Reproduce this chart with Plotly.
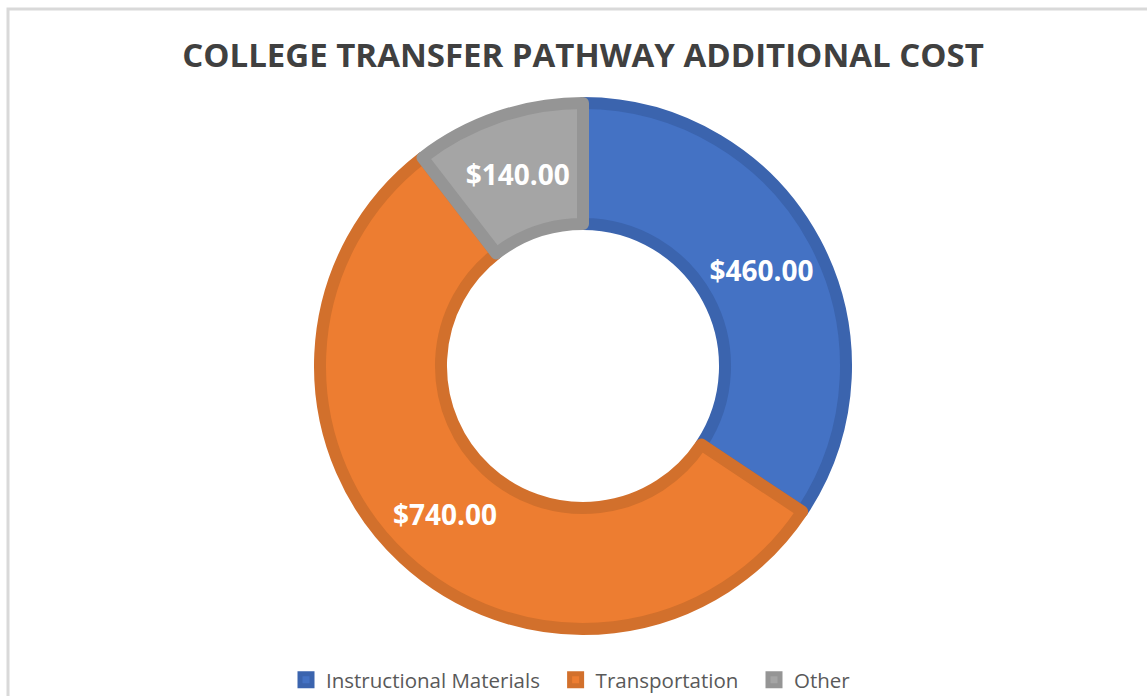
import plotly.graph_objects as go

categories = ["Instructional Materials", "Transportation", "Other"]
costs = [460, 740, 140]
label_texts = ["$460.00", "$740.00", "$140.00"]

fill_colors = ["#4472C4", "#ED7D31", "#A5A5A5"]
edge_colors = ["#3B64AE", "#D2702C", "#959595"]

W, H = 1147, 696

def px_x(v):
    return v / W

def px_y(v):
    return 1 - v / H

cx, cy, r = 583, 366, 263

legend_names = [c + "\u00a0\u00a0" for c in categories]

fig = go.Figure(
    go.Pie(
        labels=legend_names,
        values=costs,
        text=label_texts,
        textinfo="text",
        textposition="inside",
        insidetextorientation="horizontal",
        sort=False,
        direction="clockwise",
        rotation=0,
        hole=0.54,
        marker=dict(colors=fill_colors, line=dict(color=edge_colors, width=12)),
        textfont=dict(family="Open Sans", size=28, color="white", weight="bold"),
        domain=dict(x=[px_x(cx - r), px_x(cx + r)], y=[px_y(cy + r), px_y(cy - r)]),
        hoverinfo="label+value",
    )
)

fig.update_layout(
    width=W,
    height=H,
    margin=dict(l=0, r=0, t=0, b=0, autoexpand=False),
    paper_bgcolor="white",
    plot_bgcolor="white",
    title=dict(
        text="<b>COLLEGE TRANSFER PATHWAY ADDITIONAL COST</b>",
        x=px_x(583),
        xanchor="center",
        y=px_y(55),
        yanchor="middle",
        font=dict(family="Open Sans", size=33, color="#404040"),
    ),
    showlegend=True,
    legend=dict(
        orientation="h",
        x=px_x(576),
        xanchor="center",
        y=px_y(680),
        yanchor="middle",
        font=dict(family="Open Sans", size=20.5, color="#595959"),
        traceorder="normal",
    ),
    shapes=[
        dict(
            type="rect",
            xref="paper",
            yref="paper",
            x0=px_x(8),
            x1=1.05,
            y0=-0.05,
            y1=px_y(9),
            line=dict(color="#D9D9D9", width=3),
            fillcolor="rgba(0,0,0,0)",
            layer="below",
        )
    ],
)

fig.write_html(
    "out.html",
    config={"displayModeBar": False},
    post_script="document.body.style.margin='0';document.body.style.overflow='hidden';",
)
